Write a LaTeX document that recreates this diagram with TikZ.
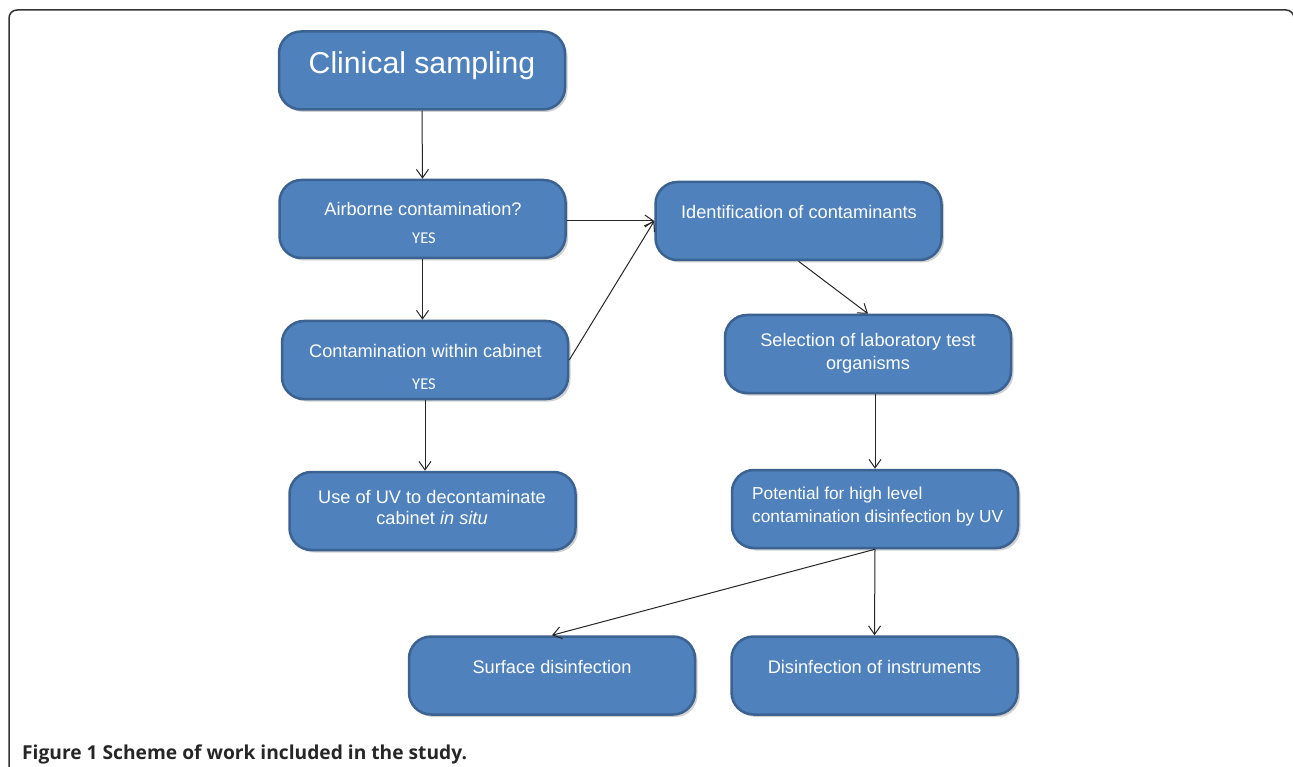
\documentclass[tikz,border=0pt]{standalone}
\usepackage{fontspec}
\setmainfont{Liberation Sans}
\newfontfamily\yesfont{Carlito}
\newfontfamily\capfont{Open Sans}
\usetikzlibrary{arrows.meta,shadows}
\definecolor{boxfill}{HTML}{4F81BD}
\definecolor{boxline}{HTML}{3B6290}
\definecolor{framecol}{HTML}{333333}
\begin{document}
\begin{tikzpicture}[x=1pt,y=-1pt,
  box/.style={draw=boxline, line width=2.5pt, fill=boxfill, rounded corners=22pt,
    minimum width=286pt, minimum height=78pt, inner sep=0pt,
    drop shadow={shadow xshift=2.5pt, shadow yshift=-2.5pt, opacity=0.3, fill=black!60}},
  txt/.style={text=white, font=\fontsize{18.2}{22}\selectfont, inner sep=0pt, anchor=base},
  yes/.style={text=white, font=\yesfont\fontsize{16.5}{18}\selectfont, inner sep=0pt, anchor=base},
  arr/.style={-{Straight Barb[length=8.5pt,width=12pt]}, line width=1pt, draw=black!85}]
\useasboundingbox (0,0) rectangle (1293,767);
\fill[white] (0,0) rectangle (1293,767);
% frame
\draw[framecol, line width=1.5pt, rounded corners=8pt] (9,780) -- (9,10) -- (1294,10) -- (1294,60);
% boxes
\node[box] (clin) at (422,70.5) {};
\node[box] (air) at (422.5,219) {};
\node[box] (cont) at (425,360) {};
\node[box] (uv) at (432.5,511) {};
\node[box] (iden) at (798.5,221) {};
\node[box] (sel) at (868,354) {};
\node[box] (pot) at (875,509) {};
\node[box] (surf) at (552,675.5) {};
\node[box] (dis) at (874.5,675.5) {};
% texts
\node[txt, font=\fontsize{30.2}{36}\selectfont] (clinT) at (422,73.5) {Clinical sampling};
\node[txt] (airT) at (423,216) {Airborne contamination?};
\node[yes] (airY) at (424,243.5) {YES};
\node[txt] (contT) at (425.5,357.5) {Contamination within cabinet};
\node[yes] (contY) at (424,389) {YES};
\node[txt] (uvA) at (432,503) {Use of UV to decontaminate};
\node[txt] (uvB) at (432,524.5) {cabinet \textit{in situ}};
\node[txt] (idenT) at (799,219) {Identification of contaminants};
\node[txt] (selA) at (868,346.5) {Selection of laboratory test};
\node[txt] (selB) at (868,369.5) {organisms};
\node[txt, anchor=base west, font=\fontsize{17.3}{21}\selectfont] (potA) at (752,499.3) {Potential for high level};
\node[txt, anchor=base west, font=\fontsize{17.3}{21}\selectfont] (potB) at (752,522.3) {contamination disinfection by UV};
\node[txt] (surfT) at (552,673.3) {Surface disinfection};
\node[txt] (disT) at (874.5,673.3) {Disinfection of instruments};
% connectors
\draw[arr] (clin.south) -- (air.north);
\draw[arr] (air.south) -- (air.south |- cont.north);
\draw[arr] (air.east |- iden.west) -- (iden.west);
\draw[arr] (cont.east) -- (iden.west);
\draw[arr] (cont.south) -- (cont.south |- uv.north);
\draw[arr] (iden.south) -- (sel.north);
\draw[arr] (pot.north |- sel.south) -- (pot.north);
\draw[arr] (pot.south) -- (surf.north);
\draw[arr] (pot.south) -- (dis.north);
% caption
\node[anchor=base west, font=\capfont\bfseries\fontsize{19.2}{22}\selectfont, text=black!85, inner sep=0pt] (cap) at (22,759.3) {Figure 1 Scheme of work included in the study.};
\end{tikzpicture}
\end{document}
